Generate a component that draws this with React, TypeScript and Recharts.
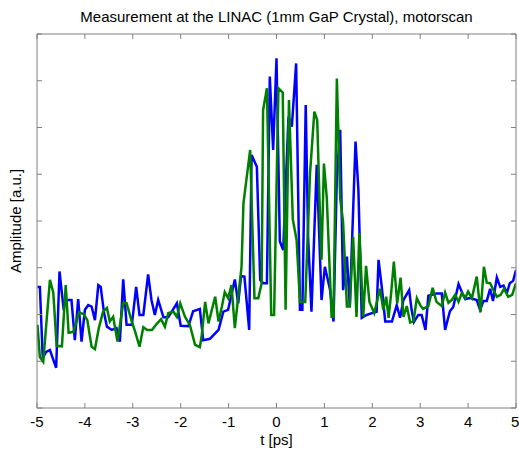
import React from 'react'
import { LineChart, Line, XAxis, YAxis } from 'recharts'

// blue trace
const blueT = [
  -4.99, -4.94, -4.88, -4.81, -4.73, -4.6, -4.53, -4.45, -4.38, -4.28, -4.21, -4.14, -4.07, -4.0, -3.93, -3.86,
  -3.79, -3.72, -3.67, -3.6, -3.54, -3.44, -3.34, -3.27, -3.2, -3.13, -3.02, -2.93, -2.86, -2.78, -2.68, -2.61,
  -2.54, -2.47, -2.36, -2.26, -2.08, -2.0, -1.84, -1.74, -1.6, -1.53, -1.39, -1.21, -1.11, -1.01, -0.87, -0.8,
  -0.74, -0.67, -0.57, -0.52, -0.41, -0.34, -0.28, -0.2, -0.14, -0.07, 0.0, 0.07, 0.14, 0.25, 0.32, 0.41,
  0.49, 0.54, 0.61, 0.66, 0.73, 0.84, 0.94, 1.01, 1.12, 1.19, 1.26, 1.33, 1.39, 1.47, 1.53, 1.65,
  1.71, 1.78, 1.88, 1.99, 2.09, 2.13, 2.2, 2.27, 2.41, 2.51, 2.58, 2.65, 2.77, 2.82, 2.87, 2.96,
  3.03, 3.11, 3.17, 3.34, 3.45, 3.52, 3.62, 3.69, 3.8, 3.87, 3.94, 4.04, 4.18, 4.25, 4.32, 4.39,
  4.46, 4.52, 4.6, 4.67, 4.74, 4.81, 4.87, 4.94, 5.0,
]
const blueAmp = [
  2.59, 2.59, 1.07, 1.2, 1.24, 0.86, 2.92, 2.17, 2.31, 2.31, 1.45, 2.33, 1.42, 2.1, 2.2, 2.17,
  1.88, 2.63, 2.59, 2.03, 1.74, 1.67, 1.71, 1.42, 2.75, 1.78, 1.78, 2.59, 1.99, 1.99, 2.86, 2.31,
  1.99, 2.31, 1.94, 1.94, 2.24, 1.76, 1.75, 2.07, 2.12, 1.45, 1.48, 1.67, 2.06, 2.1, 2.75, 2.24,
  2.82, 2.81, 1.67, 5.41, 5.16, 2.74, 2.67, 2.67, 7.09, 5.52, 7.48, 3.56, 3.38, 6.23, 6.02, 7.37,
  2.1, 2.1, 6.48, 3.66, 2.06, 5.2, 2.31, 3.02, 2.52, 1.85, 4.95, 5.95, 2.52, 3.24, 2.17, 5.7,
  4.66, 1.93, 1.99, 2.03, 2.06, 3.17, 2.57, 1.85, 1.85, 2.2, 1.93, 2.31, 2.52, 2.1, 1.84, 1.99,
  1.99, 1.67, 2.4, 2.45, 2.45, 1.67, 2.07, 2.16, 2.65, 2.48, 2.33, 2.35, 2.31, 2.1, 2.29, 2.29,
  2.55, 2.29, 2.79, 2.59, 2.62, 2.46, 2.67, 2.72, 2.95,
]

// green trace
const greenT = [
  -4.99, -4.94, -4.87, -4.73, -4.66, -4.59, -4.48, -4.4, -4.34, -4.24, -4.12, -4.02, -3.95, -3.86, -3.79, -3.71,
  -3.62, -3.54, -3.48, -3.41, -3.32, -3.2, -3.13, -3.02, -2.95, -2.86, -2.78, -2.7, -2.6, -2.5, -2.41, -2.33,
  -2.26, -2.15, -2.08, -2.01, -1.91, -1.81, -1.7, -1.6, -1.56, -1.49, -1.42, -1.35, -1.28, -1.21, -1.14, -1.08,
  -1.01, -0.94, -0.87, -0.73, -0.69, -0.55, -0.46, -0.38, -0.31, -0.28, -0.2, -0.11, -0.05, 0.04, 0.13, 0.19,
  0.26, 0.34, 0.42, 0.49, 0.6, 0.7, 0.79, 0.85, 0.91, 0.94, 0.99, 1.05, 1.15, 1.19, 1.26, 1.33,
  1.39, 1.47, 1.53, 1.6, 1.67, 1.73, 1.81, 1.87, 1.94, 2.04, 2.16, 2.23, 2.29, 2.34, 2.39, 2.45,
  2.52, 2.59, 2.65, 2.72, 2.79, 2.86, 2.93, 3.0, 3.06, 3.17, 3.26, 3.34, 3.45, 3.52, 3.59, 3.66,
  3.73, 3.8, 3.87, 3.94, 4.0, 4.08, 4.18, 4.26, 4.33, 4.39, 4.46, 4.53, 4.6, 4.68, 4.75, 4.84,
  4.92, 5.0,
]
const greenAmp = [
  1.78, 1.09, 0.99, 2.74, 2.47, 1.33, 1.32, 2.63, 1.61, 1.63, 2.05, 2.0, 1.88, 1.31, 1.26, 1.71,
  2.06, 2.14, 1.85, 1.95, 1.42, 2.24, 2.24, 1.85, 1.63, 1.31, 1.73, 1.67, 1.67, 1.8, 1.9, 1.74,
  2.03, 2.06, 1.95, 2.24, 1.95, 1.78, 1.35, 1.3, 1.56, 2.27, 1.81, 2.1, 2.38, 1.85, 2.17, 2.48,
  2.35, 2.63, 1.71, 3.02, 4.38, 5.52, 2.35, 2.35, 2.67, 6.37, 6.84, 1.99, 1.99, 6.84, 6.75, 2.1,
  6.59, 4.04, 3.59, 2.27, 2.27, 5.02, 6.34, 6.16, 4.02, 3.17, 5.23, 4.49, 1.95, 1.95, 7.05, 4.49,
  3.98, 2.17, 2.17, 3.66, 1.95, 3.74, 1.95, 3.04, 2.27, 2.03, 2.55, 2.1, 2.38, 1.93, 2.42, 3.13,
  2.24, 2.79, 1.95, 2.18, 1.83, 1.86, 2.35, 2.2, 2.12, 2.18, 2.57, 2.27, 2.18, 2.47, 2.25, 2.31,
  2.42, 2.27, 2.46, 2.35, 2.49, 2.35, 2.81, 2.05, 3.02, 2.68, 2.67, 2.52, 2.38, 2.42, 2.55, 2.38,
  2.42, 2.67,
]

const xTicks = [-5, -4, -3, -2, -1, 0, 1, 2, 3, 4, 5]
const yTicks = [0, 1, 2, 3, 4, 5, 6, 7, 8]

const toRows = (t: number[], a: number[]) => t.map((v, i) => ({ t: v, amp: a[i] }))

const FONT = "'Liberation Sans', Arial, sans-serif"
const AXIS = '#808080'

// keeps the tick line, draws no label
const NoLabel = () => <g />

const XLabel = (props: any) => {
  const vb = props.viewBox || {}
  return <text x={vb.x + vb.width / 2} y={445} textAnchor="middle" fill="#000" fontSize={15} fontFamily={FONT}>t [ps]</text>
}

const YLabel = (props: any) => {
  const vb = props.viewBox || {}
  const cy = vb.y + vb.height / 2
  return <text x={21} y={cy} transform={`rotate(-90 21 ${cy})`} textAnchor="middle" fill="#000" fontSize={15} fontFamily={FONT}>Amplitude [a.u.]</text>
}

const App = () => {
  const blue = toRows(blueT, blueAmp)
  const green = toRows(greenT, greenAmp)

  return <div style={{ position: 'absolute', left: 0, top: 0, width: 519, height: 451, background: '#fff', fontFamily: FONT }}>
    <div style={{ position: 'absolute', left: 0, top: 8, width: 553, textAlign: 'center', fontSize: 15, lineHeight: '17px', color: '#000' }}>
      Measurement at the LINAC (1mm GaP Crystal), motorscan
    </div>
    <LineChart
      width={519}
      height={451}
      margin={{ top: 33, right: 2, left: 0, bottom: 0 }}
      style={{ fontFamily: FONT }}
    >
      <XAxis
        xAxisId="b"
        dataKey="t"
        type="number"
        domain={[-5, 5]}
        ticks={xTicks}
        allowDataOverflow
        height={43}
        stroke={AXIS}
        tickSize={-5}
        tickMargin={13}
        tick={{ fill: '#000', fontSize: 15 }}
        label={{ content: XLabel }}
      />
      <XAxis
        xAxisId="top"
        dataKey="t"
        type="number"
        orientation="top"
        domain={[-5, 5]}
        ticks={xTicks}
        allowDataOverflow
        height={1}
        stroke={AXIS}
        tickSize={-5}
        tick={NoLabel}
      />
      <YAxis
        yAxisId="l"
        type="number"
        domain={[0, 8]}
        ticks={yTicks}
        allowDataOverflow
        width={37}
        stroke={AXIS}
        tickSize={-5}
        tick={NoLabel}
        label={{ content: YLabel }}
      />
      <YAxis
        yAxisId="r"
        orientation="right"
        type="number"
        domain={[0, 8]}
        ticks={yTicks}
        allowDataOverflow
        width={1}
        stroke={AXIS}
        tickSize={-5}
        tick={NoLabel}
      />
      <Line data={blue} xAxisId="b" yAxisId="l" dataKey="amp" type="linear" stroke="#0000ff" strokeWidth={2.5} dot={false} isAnimationActive={false} />
      <Line data={green} xAxisId="b" yAxisId="l" dataKey="amp" type="linear" stroke="#008000" strokeWidth={2.5} dot={false} isAnimationActive={false} />
    </LineChart>
  </div>
}

export default App
